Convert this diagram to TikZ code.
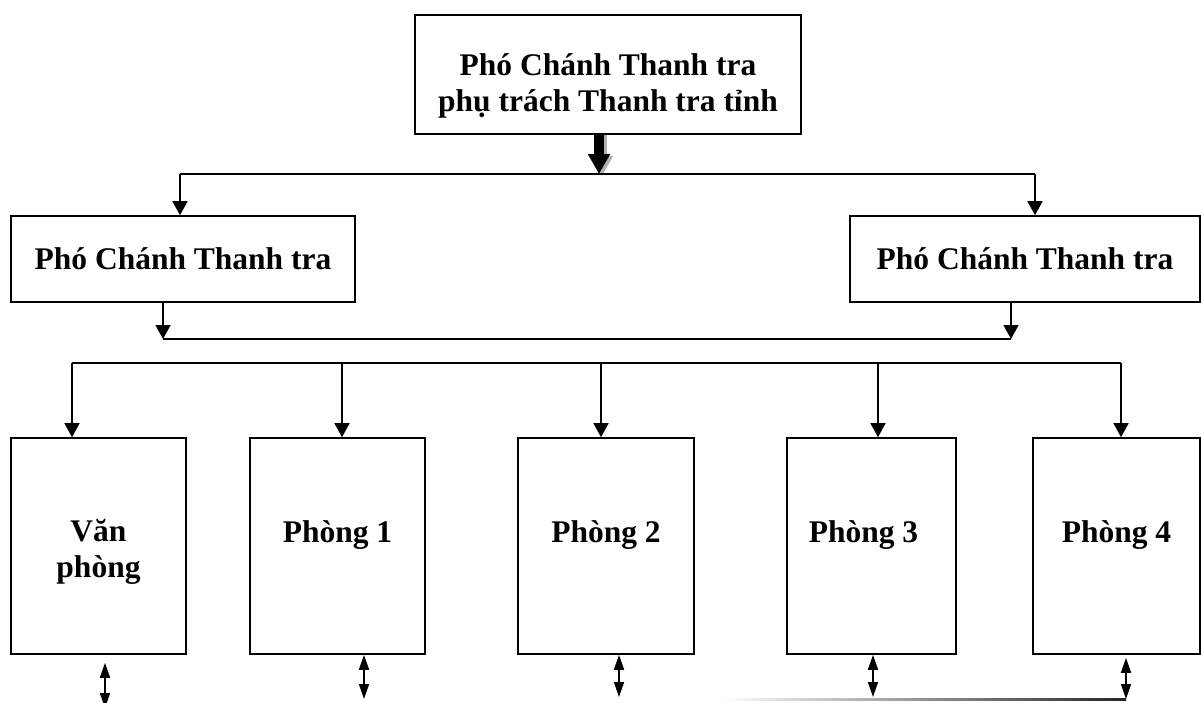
\documentclass[tikz,border=0pt]{standalone}
\usepackage{fontspec}
\setmainfont{Liberation Serif}
\usetikzlibrary{calc, positioning, arrows.meta}

\begin{document}
\begin{tikzpicture}[x=1pt, y=-1pt,
  box/.style={draw, line width=1.6pt, fill=white, inner sep=0pt,
              font=\fontsize{31.5}{37}\selectfont\bfseries, align=center},
  lbl/.style={font=\fontsize{31.5}{36}\selectfont\bfseries, align=center, inner sep=0pt},
  link/.style={line width=1.6pt},
  down/.style={line width=1.6pt, -{Triangle[length=14pt, width=15pt]}},
  dbl/.style={line width=1.6pt, {Triangle[length=15pt, width=10pt]}-{Triangle[length=15pt, width=10pt]}},
  fat/.style={line width=10pt, -{Triangle[length=20pt, width=21pt]}},
]
\useasboundingbox (0,0) rectangle (1201,702);

% chief and deputies
\node[box, minimum width=386pt, minimum height=119pt] (chief) at (608,74.5) {};
\node[lbl] (chieftxt) at (608,86) {Phó Chánh Thanh tra\\phụ trách Thanh tra tỉnh};
\node[box, minimum width=344pt, minimum height=86pt] (vl) at (183,259) {Phó Chánh Thanh tra};
\node[box, minimum width=350pt, minimum height=86pt] (vr) at (1025,259) {Phó Chánh Thanh tra};

% offices
\node[box, minimum width=175pt, minimum height=216pt] (vp) at (98.5,546) {};
\node[box, minimum width=175pt, minimum height=216pt] (p1) at (337.5,546) {};
\node[box, minimum width=176pt, minimum height=216pt] (p2) at (606,546) {};
\node[box, minimum width=169pt, minimum height=216pt] (p3) at (871.5,546) {};
\node[box, minimum width=167pt, minimum height=216pt] (p4) at (1116.5,546) {};
\node[lbl] (vptxt) at ($(vp)+(0,6)$) {Văn\\phòng};
\node[lbl] (p1txt) at ($(p1)+(0,-11)$) {Phòng 1};
\node[lbl] (p2txt) at ($(p2)+(0,-11)$) {Phòng 2};
\node[lbl] (p3txt) at ($(p3)+(-8,-11)$) {Phòng 3};
\node[lbl] (p4txt) at ($(p4)+(0,-11)$) {Phòng 4};

% chief -> deputies
\coordinate (bus1) at (599,174);
\draw[fat, gray!60] ($(chief.south -| bus1)+(3,0)$) -- ($(bus1)+(3,2)$);
\draw[fat] (chief.south -| bus1) -- (bus1);
\draw[link] (180,174) -- (1035,174);
\draw[down] (180,174) -- (180,0 |- vl.north);
\draw[down] (1035,174) -- (1035,0 |- vr.north);

% deputies -> offices
\coordinate (bus2l) at (163,339);
\coordinate (bus2r) at (1011,339);
\draw[down] (bus2l |- vl.south) -- (bus2l);
\draw[down] (bus2r |- vr.south) -- (bus2r);
\draw[link] (bus2l) -- (bus2r);
\draw[link] (72,363) -- (1121,363);
\foreach \x/\n in {72/vp, 342/p1, 601/p2, 878/p3, 1121/p4}
  \draw[down] (\x,363) -- (\x,0 |- \n.north);

% bottom links
\coordinate (b0) at (105,708);
\coordinate (b1) at (364,699);
\coordinate (b2) at (619,697);
\coordinate (b3) at (873,697);
\coordinate (b4) at (1126,699);
\draw[dbl] ($(b0 |- vp.south)+(0,8)$) -- (b0);
\draw[dbl] (b1 |- p1.south) -- (b1);
\draw[dbl] (b2 |- p2.south) -- (b2);
\draw[dbl] (b3 |- p3.south) -- (b3);
\draw[dbl] ($(b4 |- p4.south)+(0,3)$) -- (b4);
\coordinate (fade) at (720,698);
\shade[left color=white, right color=black!85] (fade) rectangle ($(b4)+(0,1.5)$);
\end{tikzpicture}
\end{document}
